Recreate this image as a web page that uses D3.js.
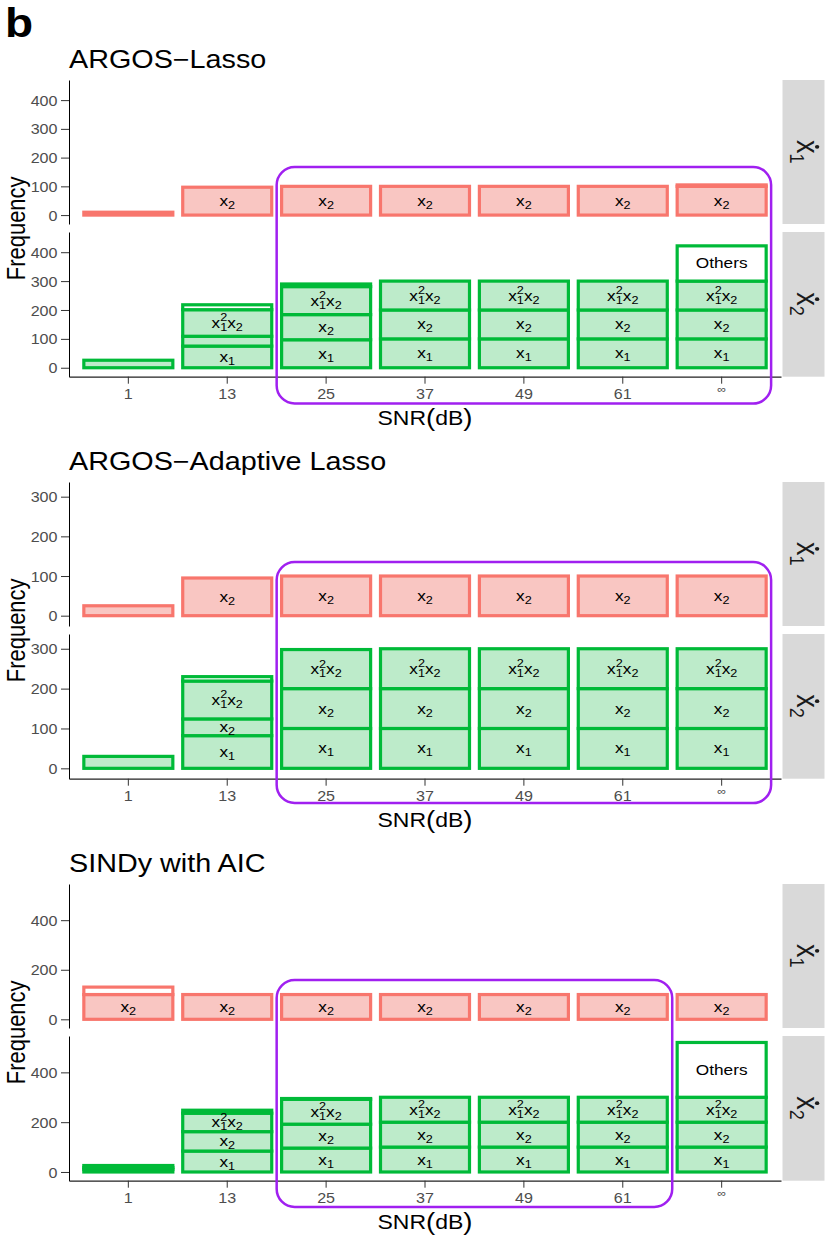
<!DOCTYPE html>
<html><head><meta charset="utf-8">
<script src="https://cdn.jsdelivr.net/npm/d3@7"></script>
<style>
body{margin:0;background:#fff}
svg{display:block;font-family:"Liberation Sans",Arial,Helvetica,sans-serif}
</style>
</head><body>
<svg id="chart" width="830" height="1246"></svg>
<script>
// ---------------- data ----------------
const categories = ["1", "13", "25", "37", "49", "61", "\u221E"];
const panelTitles = ["ARGOS\u2212Lasso", "ARGOS\u2212Adaptive Lasso", "SINDy with AIC"];
const stripLabels = ["1", "2"];            // subscripts of x-dot
const yTicksLasso = [0, 100, 200, 300, 400];
const yTicksAdaptive = [0, 100, 200, 300];
const yTicksSindy = [0, 200, 400];
const yDomainLasso = [-31, 470];
const yDomainAdaptive = [-26, 337];
const yDomainSindy = [-35, 546];

// ARGOS-Lasso
const lasso_dx1_x2     = [10, 97, 100, 100, 100, 100, 100];
const lasso_dx1_others = [0, 0, 0, 0, 0, 0, 5];
const lasso_dx2_x1     = [26, 75, 97, 100, 100, 100, 100];
const lasso_dx2_x2     = [0, 34, 87, 100, 100, 100, 100];
const lasso_dx2_x1sqx2 = [0, 92, 97, 100, 100, 100, 100];
const lasso_dx2_others = [0, 17, 9, 0, 0, 0, 122];

// ARGOS-Adaptive Lasso
const adapt_dx1_x2     = [25, 95, 100, 100, 100, 100, 100];
const adapt_dx2_x1     = [30, 82, 100, 100, 100, 100, 100];
const adapt_dx2_x2     = [0, 42, 100, 100, 100, 100, 100];
const adapt_dx2_x1sqx2 = [0, 95, 98, 100, 100, 100, 100];
const adapt_dx2_others = [0, 11, 0, 0, 0, 0, 0];

// SINDy with AIC
const sindy_dx1_x2     = [100, 100, 100, 100, 100, 100, 100];
const sindy_dx1_others = [30, 0, 0, 0, 0, 0, 0];
const sindy_dx2_x1     = [10, 84, 96, 100, 100, 100, 100];
const sindy_dx2_x2     = [8, 78, 96, 100, 100, 100, 100];
const sindy_dx2_x1sqx2 = [8, 74, 100, 100, 100, 100, 100];
const sindy_dx2_others = [0, 12, 3, 0, 0, 0, 220];

const labelMin = 40;   // segments below this count are not labelled

const panels = [
  {title: panelTitles[0], ticks: yTicksLasso, ydom: yDomainLasso, boxFrom: "25", boxTo: "\u221E",
   dx1: [["x2", lasso_dx1_x2], ["Others", lasso_dx1_others]],
   dx2: [["x1", lasso_dx2_x1], ["x2", lasso_dx2_x2], ["x1sqx2", lasso_dx2_x1sqx2], ["Others", lasso_dx2_others]]},
  {title: panelTitles[1], ticks: yTicksAdaptive, ydom: yDomainAdaptive, boxFrom: "25", boxTo: "\u221E",
   dx1: [["x2", adapt_dx1_x2]],
   dx2: [["x1", adapt_dx2_x1], ["x2", adapt_dx2_x2], ["x1sqx2", adapt_dx2_x1sqx2], ["Others", adapt_dx2_others]]},
  {title: panelTitles[2], ticks: yTicksSindy, ydom: yDomainSindy, boxFrom: "25", boxTo: "61",
   dx1: [["x2", sindy_dx1_x2], ["Others", sindy_dx1_others]],
   dx2: [["x1", sindy_dx2_x1], ["x2", sindy_dx2_x2], ["x1sqx2", sindy_dx2_x1sqx2], ["Others", sindy_dx2_others]]}
];

// ---------------- layout / style ----------------
const SX = 1.15;  // horizontal text stretch of the reference
const L = {plotL: 69, plotR: 781, stripL: 782.5, stripR: 824.5, step: 402,
           f1: [80, 224], f2: [232, 376.7], titleY: 68,
           boxY: [[167, 403.5], [160, 401], [176, 403]]};
const red = {stroke: "#F8766D", fill: "#F9C6C2"};
const green = {stroke: "#00BA38", fill: "#BDEBCA"};
const purple = "#A020F0";

const svg = d3.select("#chart");

function stext(g, x, y, str, size, opts = {}) {
  const t = g.append("text")
    .attr("transform", `translate(${x},${y}) scale(${SX},1)` + (opts.rotate ? ` rotate(${opts.rotate})` : ""))
    .attr("font-size", size)
    .attr("text-anchor", opts.anchor || "start")
    .attr("fill", opts.fill || "#000");
  if (opts.weight) t.attr("font-weight", opts.weight);
  if (str != null) t.text(str);
  return t;
}

stext(svg, 5, 37, "b", 40, {weight: "bold"});

const x = d3.scaleBand().domain(categories).range([L.plotL, L.plotR])
  .paddingInner(0.1).paddingOuter(0.15);

function addLabel(g, term, cx, cy) {
  const t = stext(g, cx, cy + 5, null, 15, {anchor: "middle"});
  if (term === "Others") { t.text("Others"); return; }
  if (term === "x1" || term === "x2") {
    t.append("tspan").text("x");
    t.append("tspan").attr("font-size", 11).attr("dy", 3).text(term[1]);
    return;
  }
  // x1^2 x2
  t.append("tspan").text("x");
  t.append("tspan").attr("font-size", 11).attr("dy", -6.5).text("2");
  t.append("tspan").attr("font-size", 11).attr("dx", -6.1).attr("dy", 9.5).text("1");
  t.append("tspan").attr("dy", -3).text("x");
  t.append("tspan").attr("font-size", 11).attr("dy", 3).text("2");
}

panels.forEach((p, pi) => {
  const off = pi * L.step;
  const g = svg.append("g").attr("transform", `translate(0,${off})`);

  // title
  stext(g, L.plotL, L.titleY, p.title, 25);

  const facets = [
    {range: L.f1, series: p.dx1, col: red, strip: stripLabels[0]},
    {range: L.f2, series: p.dx2, col: green, strip: stripLabels[1]}
  ];

  facets.forEach((f, fi) => {
    const y = d3.scaleLinear().domain(p.ydom).range([f.range[1], f.range[0]]);

    // strip
    g.append("rect").attr("x", L.stripL).attr("y", f.range[0])
      .attr("width", L.stripR - L.stripL).attr("height", f.range[1] - f.range[0])
      .attr("fill", "#D9D9D9");
    const cy = (f.range[0] + f.range[1]) / 2;
    const sg = g.append("g").attr("transform", `translate(797,${cy}) scale(${SX},1) rotate(90)`);
    const st = sg.append("text").attr("x", -12).attr("y", 0).attr("font-size", 27).attr("fill", "#1a1a1a");
    st.append("tspan").text("x");
    st.append("tspan").attr("font-size", 18).attr("dy", 6).text(f.strip);
    sg.append("circle").attr("cx", -12 + 6.8).attr("cy", -17.5).attr("r", 1.9).attr("fill", "#1a1a1a");

    // bars
    const labels = [];
    categories.forEach((c, ci) => {
      let cum = 0;
      f.series.forEach(([term, vals]) => {
        const v = vals[ci];
        if (!v) return;
        g.append("rect")
          .attr("x", x(c)).attr("width", x.bandwidth())
          .attr("y", y(cum + v)).attr("height", y(cum) - y(cum + v))
          .attr("fill", term === "Others" ? "#fff" : f.col.fill)
          .attr("stroke", f.col.stroke).attr("stroke-width", 3.2);
        if (v >= labelMin) labels.push([term, x(c) + x.bandwidth() / 2, y(cum + v / 2)]);
        cum += v;
      });
    });
    labels.forEach(([term, lx, ly]) => addLabel(g, term, lx, ly));

    // y axis
    const ya = g.append("g").attr("transform", `translate(${L.plotL},0)`)
      .call(d3.axisLeft(y).tickValues(p.ticks).tickSize(8).tickSizeOuter(0));
    ya.attr("font-family", null);
    ya.select(".domain").attr("stroke", "#000").attr("stroke-width", 1);
    ya.selectAll(".tick line").attr("stroke", "#333").attr("stroke-width", 1);
    ya.selectAll(".tick text").attr("x", 0).attr("dy", "0.36em")
      .attr("transform", `translate(-11.5,0) scale(${SX},1)`)
      .attr("font-size", 14).attr("fill", "#4D4D4D");

    // x axis on bottom facet
    if (fi === 1) {
      const xa = g.append("g").attr("transform", `translate(0,${f.range[1]})`)
        .call(d3.axisBottom(x).tickSize(7).tickSizeOuter(0));
      xa.attr("font-family", null);
      xa.select(".domain").attr("stroke", "#222").attr("stroke-width", 1.2);
      xa.selectAll(".tick line").attr("stroke", "#333").attr("stroke-width", 1);
      xa.selectAll(".tick text").attr("dy", 0)
        .attr("y", d => d === "\u221E" ? 16.5 : 22.5)
        .attr("transform", `scale(${SX},1)`)
        .attr("font-size", d => d === "\u221E" ? 11 : 14)
        .attr("fill", "#4D4D4D");

      // axis title
      const xt = stext(g, (L.plotL + L.plotR) / 2, f.range[1] + 48, null, 20, {anchor: "middle"});
      xt.append("tspan").text("SNR");
      xt.append("tspan").attr("font-size", 24).attr("dy", 1).text("(");
      xt.append("tspan").attr("dy", -1).text("dB");
      xt.append("tspan").attr("font-size", 24).attr("dy", 1).text(")");
    }
  });

  // y axis title
  stext(g, 25, (L.f1[0] + L.f2[1]) / 2, "Frequency", 22, {anchor: "middle", rotate: -90});

  // highlight box
  const left = x(p.boxFrom) + x.bandwidth() / 2 - x.step() / 2;
  const right = x(p.boxTo) + x.bandwidth() / 2 + x.step() / 2;
  g.append("rect").attr("x", left).attr("y", L.boxY[pi][0])
    .attr("width", right - left).attr("height", L.boxY[pi][1] - L.boxY[pi][0])
    .attr("rx", 18).attr("ry", 18)
    .attr("fill", "none").attr("stroke", purple).attr("stroke-width", 2.5);
});
</script>
</body></html>
